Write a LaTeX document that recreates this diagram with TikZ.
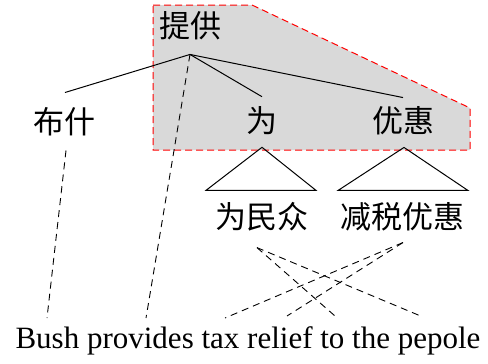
\documentclass[tikz,border=0pt]{standalone}
\usepackage{fontspec}
\setmainfont{Liberation Serif}
\newfontfamily\cjk{Noto Sans CJK SC}
\begin{document}
\begin{tikzpicture}[x=1pt,y=-1pt,
  zh/.style={font=\cjk\fontsize{31}{31}\selectfont, inner sep=0pt},
  tree/.style={line width=1pt},
  wordlink/.style={dash pattern=on 7pt off 5pt, line width=0.9pt},
  region/.style={fill=gray!30, draw=red, dash pattern=on 7pt off 4pt, line width=1pt}]
\useasboundingbox (0,0) rectangle (488,364);
\path[region] (153,5) -- (252,5) -- (470,108) -- (470,150) -- (153,150) -- cycle;
% nodes
\node[zh] (tg) at (190,26) {提供};
\node[zh] (bs) at (65,122) {布什};
\node[zh] (wei) at (262,121) {为};
\node[zh] (yh) at (403,121) {优惠};
\node[zh] (wmz) at (262,217) {为民众};
\node[zh] (jsyh) at (402,217) {减税优惠};
\node[anchor=base, inner sep=0pt, font=\fontsize{31}{31}\selectfont] (en) at (248,348) {Bush provides tax relief to the pepole};
% anchor points
\coordinate (tgb) at ([yshift=-14pt]tg.south);
\coordinate (wBush) at (47,318);
\coordinate (wprov) at (146,318);
\coordinate (wtax) at (225,318);
\coordinate (wrel) at (287,316);
\coordinate (wto) at (335,316);
\coordinate (wpep) at (423,317);
% tree edges
\draw[tree] (tgb) -- ([yshift=15pt]bs.north);
\draw[tree] (tgb) -- ([yshift=10pt]wei.north);
\draw[tree] (tgb) -- ([yshift=9pt]yh.north);
% triangles
\draw[tree] ([xshift=-56pt,yshift=12pt]wmz.north) -- ([yshift=-12pt]wei.south) -- ([xshift=54pt,yshift=12pt]wmz.north) -- cycle;
\draw[tree] ([xshift=-64pt,yshift=12pt]jsyh.north) -- ([xshift=1pt,yshift=-12pt]yh.south) -- ([xshift=66pt,yshift=12pt]jsyh.north) -- cycle;
% alignments
\draw[wordlink] ([xshift=1pt,yshift=-14pt]bs.south) -- (wBush);
\draw[wordlink] (tgb) -- (wprov);
\draw[wordlink] ([xshift=-5pt,yshift=-16pt]wmz.south) -- (wto);
\draw[wordlink] ([xshift=-5pt,yshift=-16pt]wmz.south) -- (wpep);
\draw[wordlink] ([xshift=1pt,yshift=-11pt]jsyh.south) -- (wtax);
\draw[wordlink] ([xshift=1pt,yshift=-11pt]jsyh.south) -- (wrel);
\end{tikzpicture}
\end{document}
